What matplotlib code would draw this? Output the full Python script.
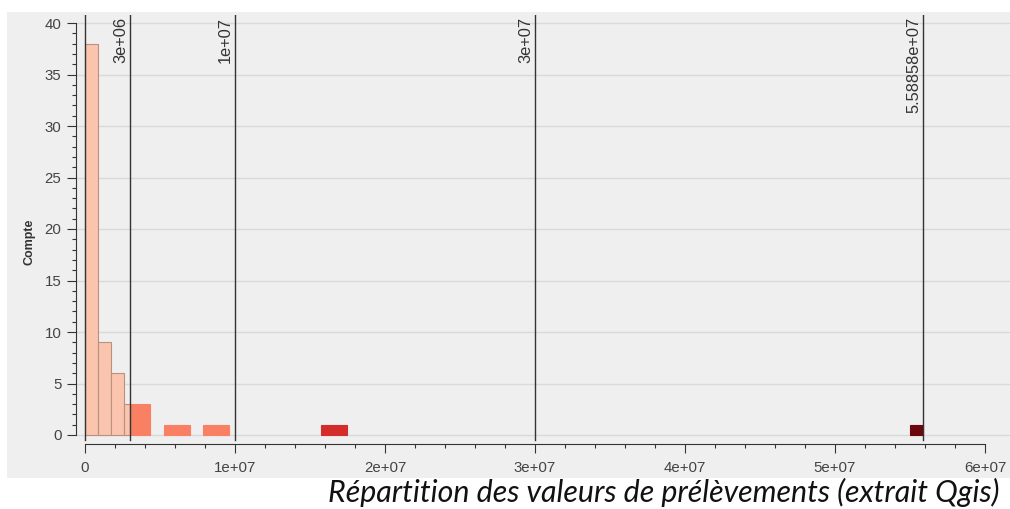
import numpy as np
import matplotlib
matplotlib.use("Agg")
import matplotlib.pyplot as plt
from matplotlib.patches import Rectangle
from matplotlib.ticker import MultipleLocator, FuncFormatter
import matplotlib.transforms as mtransforms

# ---- data ----
value_min = 0.0
value_max = 5.58858e7
n_bins = 64
bin_index = [0, 1, 2, 3, 4, 6, 7, 9, 10, 18, 19, 63]
bin_counts = [38, 9, 6, 3, 3, 1, 1, 1, 1, 1, 1, 1]
class_breaks = [0.0, 3e6, 1e7, 3e7, 5.58858e7]
break_labels = ["", "3e+06", "1e+07", "3e+07", "5.58858e+07"]
class_colors = ["#fac4ae", "#f98062", "#d42b2b", "#6c070e"]
class_edges = ["#b9927f", "#f98062", "#d42b2b", "#6c070e"]
x_ticks = [0, 1e7, 2e7, 3e7, 4e7, 5e7, 6e7]
y_label = "Compte"
caption = "Répartition des valeurs de prélèvements (extrait Qgis)"

plt.rcParams["font.family"] = ["Liberation Sans", "DejaVu Sans"]

W, H = 1010, 509
fig = plt.figure(figsize=(W / 100, H / 100), dpi=100)
fig.patch.set_facecolor("white")

# grey panel
fig.patches.append(Rectangle((7 / W, 1 - 478 / H), (1010 - 7) / W, (478 - 12) / H,
                             transform=fig.transFigure, facecolor="#efefef",
                             edgecolor="none", zorder=-10))

# axes geometry in pixels
ax_l, ax_r, ax_t, ax_b = 76, 1010, 15, 444
x0_px, x6_px = 85, 985
y0_px, y40_px = 435, 23
ax = fig.add_axes([ax_l / W, 1 - ax_b / H, (ax_r - ax_l) / W, (ax_b - ax_t) / H])
ax.set_facecolor("none")
ax.set_zorder(1)

xs = (x6_px - x0_px) / 6e7
ax.set_xlim(-(x0_px - ax_l) / xs, (ax_r - x0_px) / xs)
ys = (y0_px - y40_px) / 40
ax.set_ylim(-(ax_b - y0_px) / ys, 40 + (y40_px - ax_t) / ys)

# histogram bars, split at class breaks
edges = np.linspace(value_min, value_max, n_bins + 1)
for bi, c in zip(bin_index, bin_counts):
    lo, hi = edges[bi], edges[bi + 1]
    for k in range(len(class_breaks) - 1):
        a = max(lo, class_breaks[k])
        b = min(hi, class_breaks[k + 1])
        if b > a:
            ax.bar(a, c, width=b - a, align="edge", color=class_colors[k],
                   edgecolor=class_edges[k], linewidth=0.8, zorder=2)

# class break lines + labels
bottom_frac = (ax_b - 440) / (ax_b - ax_t)
for xb, lab in zip(class_breaks, break_labels):
    ax.axvline(xb, ymin=bottom_frac, ymax=1, color="#333333", lw=1.0, zorder=3)
    if lab:
        tr = mtransforms.blended_transform_factory(ax.transData, ax.transAxes)
        tr = tr + mtransforms.ScaledTranslation(-2 / 100, -2 / 100, fig.dpi_scale_trans)
        ax.text(xb, 1, lab, transform=tr, rotation=90, ha="right", va="top",
                fontsize=11.8, color="#333333", zorder=4)

# grid
ax.set_axisbelow(True)
ax.yaxis.grid(True, color="#d9d9d9", lw=1.0)
ax.xaxis.grid(False)

# spines
for s in ["top", "right"]:
    ax.spines[s].set_visible(False)
ax.spines["left"].set_bounds(0, 40)
ax.spines["bottom"].set_bounds(0, 6e7)
for s in ["left", "bottom"]:
    ax.spines[s].set_color("#333333")
    ax.spines[s].set_linewidth(0.8)

ax.set_xticks(x_ticks)
ax.xaxis.set_minor_locator(MultipleLocator(2e6))
ax.xaxis.set_major_formatter(FuncFormatter(lambda v, p: "0" if v == 0 else f"{v:.0e}"))
ax.yaxis.set_major_locator(MultipleLocator(5))
ax.yaxis.set_minor_locator(MultipleLocator(1))
ax.yaxis.set_major_formatter(FuncFormatter(lambda v, p: f"{v:.0f}"))

ax.tick_params(axis="both", which="major", direction="out", length=6.5, width=0.8,
               color="#333333", labelcolor="#444444", labelsize=10.8)
ax.tick_params(axis="both", which="minor", direction="out", length=3, width=0.8,
               color="#333333")
ax.tick_params(axis="y", which="major", pad=4)
ax.tick_params(axis="x", which="major", pad=6)

fig.text(30 / W, 1 - 242 / H, y_label, rotation=90, ha="center", va="center",
         fontsize=9, fontweight="bold", color="#333333")

fig.text(1000 / W, 1 - 502 / H, caption, ha="right", va="baseline",
         fontsize=21.9, fontstyle="italic", family="Lato", color="#111111")

fig.savefig("out.png", dpi=100)
